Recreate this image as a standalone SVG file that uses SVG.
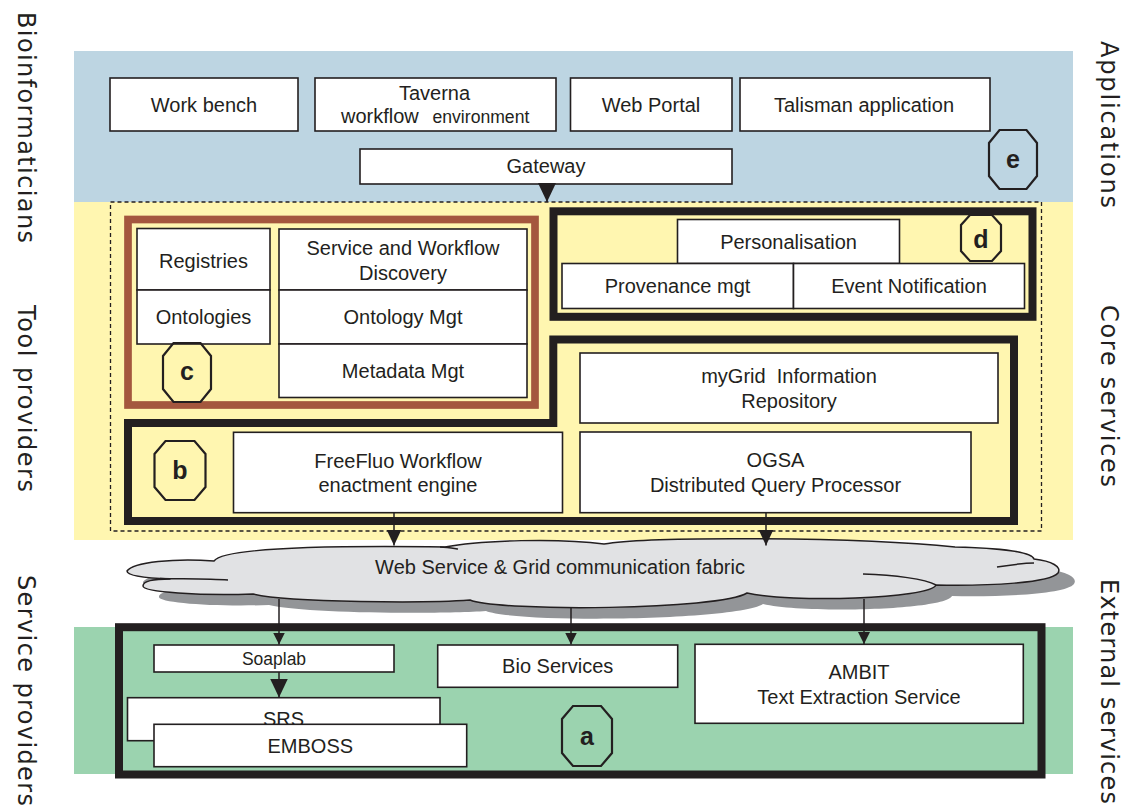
<svg xmlns="http://www.w3.org/2000/svg" xmlns:xlink="http://www.w3.org/1999/xlink" width="1121" height="805" viewBox="0 0 1121 805">
<style>
.box{fill:#fff;stroke:#231F20;stroke-width:1.6}
.t{font-family:"Liberation Sans",Arial,sans-serif;font-size:20px;fill:#231F20;text-anchor:middle}
.side{font-family:"DejaVu Sans",sans-serif;font-size:24px;fill:#231F20}
.oct{fill:none;stroke:#231F20;stroke-width:2.2;stroke-linejoin:miter}
.ol{font-family:"Liberation Sans",Arial,sans-serif;font-weight:bold;font-size:25px;fill:#231F20;text-anchor:middle}
.thick{fill:none;stroke:#231F20;stroke-width:8;stroke-linejoin:miter}
.conn{stroke:#231F20;stroke-width:1.5;fill:none}
.curl{stroke:#231F20;stroke-width:1.5;fill:none}
</style>
<defs>
<marker id="ahS" viewBox="0 0 10 10" refX="10" refY="5" markerWidth="12" markerHeight="12" markerUnits="userSpaceOnUse" orient="auto" preserveAspectRatio="none"><path d="M0,0 L10,5 L0,10 z" fill="#231F20"/></marker>
<marker id="ahM" viewBox="0 0 10 10" refX="10" refY="5" markerWidth="16" markerHeight="15" markerUnits="userSpaceOnUse" orient="auto" preserveAspectRatio="none"><path d="M0,0 L10,5 L0,10 z" fill="#231F20"/></marker>
<marker id="ahL" viewBox="0 0 10 10" refX="10" refY="5" markerWidth="19" markerHeight="18" markerUnits="userSpaceOnUse" orient="auto" preserveAspectRatio="none"><path d="M0,0 L10,5 L0,10 z" fill="#231F20"/></marker>
<path id="cloudShape" d="M127,571 C133,562 175,558 214,561 C222,550 300,545 445,547 C480,540 560,538 604,544 C650,536 860,537 955,547 C1000,548 1032,552 1034,559 C1052,561 1062,567 1058,573 C1050,583 990,586 936,585 C930,599 790,603 747,593 C720,610 500,612 470,600 C430,603 290,603 253,594 C200,596 143,592 143,586 C143,581 155,579 170,579 C145,578 127,576 127,571 Z"/>
</defs>

<g id="bands">
<rect x="74" y="51" width="999" height="151" fill="#BDD5E2"/>
<rect x="74" y="202" width="999" height="338" fill="#FFF6B0"/>
<rect x="74" y="627" width="999" height="147" fill="#9BD3AF"/>
<rect x="110.5" y="202" width="931" height="329" fill="none" stroke="#231F20" stroke-width="1.3" stroke-dasharray="4 3"/>
</g>

<g id="side-labels">
<text class="side" transform="translate(18,127.5) rotate(90)" text-anchor="middle" textLength="231" lengthAdjust="spacing">Bioinformaticians</text>
<text class="side" transform="translate(18,398.5) rotate(90)" text-anchor="middle" textLength="187" lengthAdjust="spacing">Tool providers</text>
<text class="side" transform="translate(18,575) rotate(90)" textLength="231" lengthAdjust="spacing">Service providers</text>
<text class="side" transform="translate(1101,124.5) rotate(90)" text-anchor="middle" textLength="167" lengthAdjust="spacing">Applications</text>
<text class="side" transform="translate(1101,396) rotate(90)" text-anchor="middle" textLength="182" lengthAdjust="spacing">Core services</text>
<text class="side" transform="translate(1101,579) rotate(90)" textLength="225" lengthAdjust="spacing">External services</text>
</g>

<g id="app-layer">
<g id="workbench"><rect class="box" x="110" y="78" width="188" height="53"/><text class="t" x="204" y="112">Work bench</text></g>
<g id="taverna"><rect class="box" x="315" y="78" width="241" height="53"/><text class="t" x="434.5" y="100">Taverna</text><text class="t" x="341" y="123.3" style="text-anchor:start">workflow</text><text class="t" x="432.5" y="123.3" style="text-anchor:start;font-size:17.6px">environment</text></g>
<g id="webportal"><rect class="box" x="570.5" y="78" width="161.5" height="53"/><text class="t" x="651" y="112">Web Portal</text></g>
<g id="talisman"><rect class="box" x="740" y="78" width="250" height="53"/><text class="t" x="864" y="112">Talisman application</text></g>
<g id="gateway"><rect class="box" x="360" y="149" width="372" height="35"/><text class="t" x="546" y="173.3">Gateway</text></g>
<g id="label-e"><polygon class="oct" points="999.5,130 1026.5,130 1037,143 1037,176 1026.5,189 999.5,189 989,176 989,143"/><text class="ol" x="1013" y="168">e</text></g>
</g>

<g id="group-c">
<rect x="128" y="219.5" width="407" height="185.5" fill="none" stroke="#A4573E" stroke-width="7.7"/>
<g id="registries"><rect class="box" x="137" y="228.5" width="133" height="61.5"/><text class="t" x="203.5" y="267.7">Registries</text></g>
<g id="ontologies"><rect class="box" x="137" y="290" width="133" height="54"/><text class="t" x="203.5" y="324">Ontologies</text></g>
<g id="discovery"><rect class="box" x="279" y="229" width="248" height="61"/><text class="t" x="403" y="255">Service and Workflow</text><text class="t" x="403" y="280">Discovery</text></g>
<g id="ontologymgt"><rect class="box" x="279" y="290" width="248" height="54"/><text class="t" x="403" y="324">Ontology Mgt</text></g>
<g id="metadatamgt"><rect class="box" x="279" y="344" width="248" height="53.5"/><text class="t" x="403" y="378.3">Metadata Mgt</text></g>
<g id="label-c"><polygon class="oct" points="173.5,343 200.5,343 211,356 211,389 200.5,402 173.5,402 163,389 163,356"/><text class="ol" x="187" y="380">c</text></g>
</g>

<g id="group-d">
<rect class="thick" x="553.5" y="211.3" width="479" height="105.5"/>
<g id="personalisation"><rect class="box" x="677.5" y="219.5" width="222" height="44"/><text class="t" x="788.5" y="249.3">Personalisation</text></g>
<g id="provenance"><rect class="box" x="562" y="263.5" width="231.5" height="45"/><text class="t" x="677.5" y="292.7">Provenance mgt</text></g>
<g id="event"><rect class="box" x="793.5" y="263.5" width="231" height="45"/><text class="t" x="909" y="292.7">Event Notification</text></g>
<g id="label-d"><polygon class="oct" points="970,215 992,215 1001,225 1001,251 992,261 970,261 961,251 961,225"/><text class="ol" x="981" y="248">d</text></g>
</g>

<g id="group-b">
<path class="thick" d="M128,423 H553.3 V339.5 H1014 V521 H128 Z"/>
<g id="mygrid"><rect class="box" x="580" y="353" width="418" height="70"/><text class="t" x="789" y="382.7" xml:space="preserve">myGrid  Information</text><text class="t" x="789" y="408.3">Repository</text></g>
<g id="freefluo"><rect class="box" x="233.5" y="432.3" width="329" height="80.4"/><text class="t" x="398" y="467.7">FreeFluo Workflow</text><text class="t" x="398" y="491.7">enactment engine</text></g>
<g id="ogsa"><rect class="box" x="580" y="432" width="391" height="80.7"/><text class="t" x="775.5" y="466.7">OGSA</text><text class="t" x="775.5" y="491.7">Distributed Query Processor</text></g>
<g id="label-b"><polygon class="oct" points="165.5,441 194.5,441 205.5,454 205.5,487 194.5,500 165.5,500 154.5,487 154.5,454"/><text class="ol" x="180" y="479">b</text></g>
</g>

<g id="cloud">
<use xlink:href="#cloudShape" href="#cloudShape" transform="translate(16,11)" fill="#939598"/>
<use xlink:href="#cloudShape" href="#cloudShape" fill="#E1E2E4" stroke="#231F20" stroke-width="1.5" stroke-linejoin="round"/>
<path class="curl" d="M160,578.5 C185,579 210,579 228,580"/>
<path class="curl" d="M440,547 C447,547 452,548 458,549"/>
<path class="curl" d="M997,567 C1010,565 1025,563 1034,563"/>
<path class="curl" d="M863,574 C895,575 925,579 936,585"/>
<text class="t" x="560" y="574">Web Service &amp; Grid communication fabric</text>
</g>

<g id="group-a">
<rect class="thick" x="119" y="627.2" width="922.5" height="147.3"/>
<g id="soaplab"><rect class="box" x="154" y="645" width="240" height="27"/><text class="t" x="274" y="665" style="font-size:17.5px">Soaplab</text></g>
<g id="srs"><rect class="box" x="127.5" y="697.7" width="312.5" height="43"/><text class="t" x="283.5" y="726">SRS</text></g>
<g id="emboss"><rect class="box" x="154" y="724.3" width="312.7" height="42.4"/><text class="t" x="310.3" y="752.7">EMBOSS</text></g>
<g id="bioservices"><rect class="box" x="437.7" y="645" width="240" height="42.3"/><text class="t" x="557.7" y="672.7">Bio Services</text></g>
<g id="ambit"><rect class="box" x="695" y="644.3" width="328.3" height="79"/><text class="t" x="859" y="679.3">AMBIT</text><text class="t" x="859" y="704">Text Extraction Service</text></g>
<g id="label-a"><polygon class="oct" points="573,706 601,706 612,719 612,753 601,766 573,766 562,753 562,719"/><text class="ol" x="587" y="745">a</text></g>
</g>

<g id="connectors">
<line class="conn" x1="547" y1="184" x2="547" y2="202" marker-end="url(#ahL)"/>
<line class="conn" x1="394" y1="512.7" x2="394" y2="545.5" marker-end="url(#ahM)"/>
<line class="conn" x1="766" y1="512.7" x2="766" y2="545.5" marker-end="url(#ahM)"/>
<line class="conn" x1="279" y1="599" x2="279" y2="644.5" marker-end="url(#ahS)"/>
<line class="conn" x1="571" y1="607" x2="571" y2="644.5" marker-end="url(#ahS)"/>
<line class="conn" x1="864" y1="599" x2="864" y2="644" marker-end="url(#ahS)"/>
<line class="conn" x1="279" y1="672" x2="279" y2="697.5" marker-end="url(#ahL)"/>
</g>
</svg>
